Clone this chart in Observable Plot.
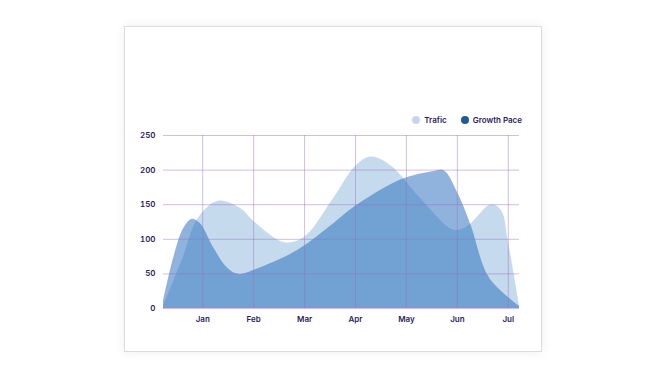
<!DOCTYPE html>
<html><head><meta charset="utf-8">
<script src="https://cdn.jsdelivr.net/npm/d3@7"></script>
<script src="https://cdn.jsdelivr.net/npm/@observablehq/plot@0.6"></script>
<style>
html,body{margin:0;padding:0;background:#fff;width:666px;height:375px;overflow:hidden;font-family:Inter,"Noto Sans",sans-serif;}
#card{position:absolute;left:124px;top:26px;width:416px;height:324px;border:1px solid #dcdcdc;background:#fff;box-shadow:0 0 10px rgba(0,0,0,0.07);}
#legend{position:absolute;top:88px;right:19px;display:flex;gap:14px;font-size:8px;font-weight:600;color:#2b1b5e;align-items:center;}
#legend span{display:flex;align-items:center;gap:4px;}
#legend i{display:inline-block;width:8px;height:8px;border-radius:50%;}
svg{position:absolute;left:0;top:0;}
</style></head>
<body>
<div id="card"><div id="legend"></div></div>
<script>
const monthTicks = [1,2,3,4,5,6,7];
const monthLabels = ["Jan","Feb","Mar","Apr","May","Jun","Jul"];
const yTicks = [0,50,100,150,200,250];
const seriesNames = ["Trafic","Growth Pace"];
const legendColors = ["#c8d4e8","#1d5c96"];

const trafficX = [0.23,0.6,0.92,1.31,1.75,2.0,2.61,3.0,3.58,4.01,4.31,4.7,5.29,5.94,6.21,6.67,6.87,7.0,7.22];
const trafficY = [3,70,131,155,144,126,95,103,160,206,219,206,158,113,119,150,141,97,4];

const growthX = [0.23,0.43,0.63,0.8,0.96,1.22,1.49,1.71,2.0,2.53,2.93,3.58,4.01,4.9,5.55,5.74,6.02,6.27,6.63,7.22];
const growthY = [10,73,116,129,122,87,58,49,55,71,87,123,148,186,198,199,165,120,44,3];

const traffic = trafficX.map((x,i)=>({x, y: trafficY[i]}));
const growth = growthX.map((x,i)=>({x, y: growthY[i]}));

const legend = document.getElementById("legend");
seriesNames.forEach((n,i)=>{
  const s = document.createElement("span");
  s.innerHTML = `<i style="background:${legendColors[i]}"></i>${n}`;
  legend.appendChild(s);
});

const grid = "#9a6cc6";
const chart = Plot.plot({
  width: 416, height: 324,
  marginLeft: 38, marginRight: 22, marginTop: 108, marginBottom: 43,
  style: {fontFamily: "Inter, 'Noto Sans', sans-serif", fontSize: "8px", fontWeight: 600, color: "#2b1b5e", background: "transparent"},
  x: {domain: [0.23, 7.22], label: null},
  y: {domain: [0, 250], label: null},
  marks: [
    Plot.areaY(traffic, {x: "x", y: "y", curve: "catmull-rom", fill: "#c5daec"}),
    Plot.areaY(growth, {x: "x", y: "y", curve: "catmull-rom", fill: "#1f67b9", fillOpacity: 0.5}),
    Plot.gridY({ticks: yTicks, stroke: grid, strokeOpacity: 0.45, strokeWidth: 1}),
    Plot.gridX({ticks: monthTicks, stroke: grid, strokeOpacity: 0.45, strokeWidth: 1}),
    Plot.axisX({ticks: monthTicks, tickFormat: d => monthLabels[d-1], tickSize: 0, tickPadding: 8, fill: "#2b1b5e"}),
    Plot.axisY({ticks: yTicks, tickSize: 0, tickPadding: 8, fill: "#2b1b5e"})
  ]
});
document.getElementById("card").appendChild(chart);
</script>
</body></html>
